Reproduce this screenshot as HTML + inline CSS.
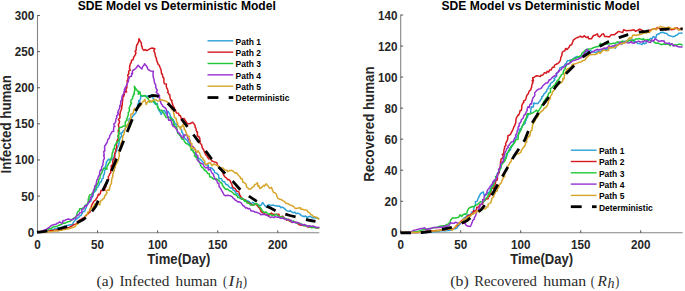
<!DOCTYPE html>
<html><head><meta charset="utf-8"><style>
html,body{margin:0;padding:0;background:#fff;}
svg{display:block;}
text{font-family:"Liberation Sans",sans-serif;}
.tk{font-size:12.4px;font-weight:bold;fill:#262626;}
.lb{font-size:14px;font-weight:bold;fill:#262626;}
.tt{font-size:12.8px;font-weight:bold;fill:#000;}
.lg{font-size:9.1px;font-weight:bold;fill:#000;}
.cp{font-family:"Liberation Serif",serif;font-size:14px;fill:#2a2a2a;}
</style></head><body>
<svg width="685" height="291" viewBox="0 0 685 291">
<rect width="685" height="291" fill="#fff"/>
<path d="M37.5,15.3 V232.70000000000002 H319.3" fill="none" stroke="#858585" stroke-width="1.1"/>
<line x1="37.5" y1="232.2" x2="39.9" y2="232.2" stroke="#262626" stroke-width="0.8"/>
<text transform="translate(34.20,236.70) scale(0.94,1)" text-anchor="end" class="tk">0</text>
<line x1="37.5" y1="196.08333333333331" x2="39.9" y2="196.08333333333331" stroke="#262626" stroke-width="0.8"/>
<text transform="translate(34.20,200.58) scale(0.94,1)" text-anchor="end" class="tk">50</text>
<line x1="37.5" y1="159.96666666666664" x2="39.9" y2="159.96666666666664" stroke="#262626" stroke-width="0.8"/>
<text transform="translate(34.20,164.47) scale(0.94,1)" text-anchor="end" class="tk">100</text>
<line x1="37.5" y1="123.85" x2="39.9" y2="123.85" stroke="#262626" stroke-width="0.8"/>
<text transform="translate(34.20,128.35) scale(0.94,1)" text-anchor="end" class="tk">150</text>
<line x1="37.5" y1="87.73333333333332" x2="39.9" y2="87.73333333333332" stroke="#262626" stroke-width="0.8"/>
<text transform="translate(34.20,92.23) scale(0.94,1)" text-anchor="end" class="tk">200</text>
<line x1="37.5" y1="51.616666666666646" x2="39.9" y2="51.616666666666646" stroke="#262626" stroke-width="0.8"/>
<text transform="translate(34.20,56.12) scale(0.94,1)" text-anchor="end" class="tk">250</text>
<line x1="37.5" y1="15.5" x2="39.9" y2="15.5" stroke="#262626" stroke-width="0.8"/>
<text transform="translate(34.20,20.00) scale(0.94,1)" text-anchor="end" class="tk">300</text>
<line x1="37.5" y1="232.70000000000002" x2="37.5" y2="230.3" stroke="#262626" stroke-width="0.8"/>
<text transform="translate(37.50,248.60000000000002) scale(0.94,1)" text-anchor="middle" class="tk">0</text>
<line x1="97.575" y1="232.70000000000002" x2="97.575" y2="230.3" stroke="#262626" stroke-width="0.8"/>
<text transform="translate(97.58,248.60000000000002) scale(0.94,1)" text-anchor="middle" class="tk">50</text>
<line x1="157.65" y1="232.70000000000002" x2="157.65" y2="230.3" stroke="#262626" stroke-width="0.8"/>
<text transform="translate(157.65,248.60000000000002) scale(0.94,1)" text-anchor="middle" class="tk">100</text>
<line x1="217.725" y1="232.70000000000002" x2="217.725" y2="230.3" stroke="#262626" stroke-width="0.8"/>
<text transform="translate(217.72,248.60000000000002) scale(0.94,1)" text-anchor="middle" class="tk">150</text>
<line x1="277.8" y1="232.70000000000002" x2="277.8" y2="230.3" stroke="#262626" stroke-width="0.8"/>
<text transform="translate(277.80,248.60000000000002) scale(0.94,1)" text-anchor="middle" class="tk">200</text>
<text transform="translate(178.85,264.0) scale(0.935,1)" text-anchor="middle" class="lb">Time(Day)</text>
<text transform="translate(11.0,124.3) rotate(-90) scale(0.952,1)" text-anchor="middle" class="lb">Infected human</text>
<text transform="translate(176.8,9.7) scale(0.945,1)" text-anchor="middle" class="tt">SDE Model vs Deterministic Model</text>
<path d="M400.7,14.8 V232.70000000000002 H682.6" fill="none" stroke="#858585" stroke-width="1.1"/>
<line x1="400.7" y1="232.3" x2="403.09999999999997" y2="232.3" stroke="#262626" stroke-width="0.8"/>
<text transform="translate(397.40,236.80) scale(0.94,1)" text-anchor="end" class="tk">0</text>
<line x1="400.7" y1="201.25714285714287" x2="403.09999999999997" y2="201.25714285714287" stroke="#262626" stroke-width="0.8"/>
<text transform="translate(397.40,205.76) scale(0.94,1)" text-anchor="end" class="tk">20</text>
<line x1="400.7" y1="170.21428571428572" x2="403.09999999999997" y2="170.21428571428572" stroke="#262626" stroke-width="0.8"/>
<text transform="translate(397.40,174.71) scale(0.94,1)" text-anchor="end" class="tk">40</text>
<line x1="400.7" y1="139.17142857142858" x2="403.09999999999997" y2="139.17142857142858" stroke="#262626" stroke-width="0.8"/>
<text transform="translate(397.40,143.67) scale(0.94,1)" text-anchor="end" class="tk">60</text>
<line x1="400.7" y1="108.12857142857143" x2="403.09999999999997" y2="108.12857142857143" stroke="#262626" stroke-width="0.8"/>
<text transform="translate(397.40,112.63) scale(0.94,1)" text-anchor="end" class="tk">80</text>
<line x1="400.7" y1="77.08571428571429" x2="403.09999999999997" y2="77.08571428571429" stroke="#262626" stroke-width="0.8"/>
<text transform="translate(397.40,81.59) scale(0.94,1)" text-anchor="end" class="tk">100</text>
<line x1="400.7" y1="46.042857142857144" x2="403.09999999999997" y2="46.042857142857144" stroke="#262626" stroke-width="0.8"/>
<text transform="translate(397.40,50.54) scale(0.94,1)" text-anchor="end" class="tk">120</text>
<line x1="400.7" y1="15.0" x2="403.09999999999997" y2="15.0" stroke="#262626" stroke-width="0.8"/>
<text transform="translate(397.40,19.50) scale(0.94,1)" text-anchor="end" class="tk">140</text>
<line x1="400.7" y1="232.70000000000002" x2="400.7" y2="230.3" stroke="#262626" stroke-width="0.8"/>
<text transform="translate(400.70,248.60000000000002) scale(0.94,1)" text-anchor="middle" class="tk">0</text>
<line x1="460.7" y1="232.70000000000002" x2="460.7" y2="230.3" stroke="#262626" stroke-width="0.8"/>
<text transform="translate(460.70,248.60000000000002) scale(0.94,1)" text-anchor="middle" class="tk">50</text>
<line x1="520.7" y1="232.70000000000002" x2="520.7" y2="230.3" stroke="#262626" stroke-width="0.8"/>
<text transform="translate(520.70,248.60000000000002) scale(0.94,1)" text-anchor="middle" class="tk">100</text>
<line x1="580.7" y1="232.70000000000002" x2="580.7" y2="230.3" stroke="#262626" stroke-width="0.8"/>
<text transform="translate(580.70,248.60000000000002) scale(0.94,1)" text-anchor="middle" class="tk">150</text>
<line x1="640.7" y1="232.70000000000002" x2="640.7" y2="230.3" stroke="#262626" stroke-width="0.8"/>
<text transform="translate(640.70,248.60000000000002) scale(0.94,1)" text-anchor="middle" class="tk">200</text>
<text transform="translate(541.7,264.0) scale(0.935,1)" text-anchor="middle" class="lb">Time(Day)</text>
<text transform="translate(374.0,124.1) rotate(-90) scale(0.952,1)" text-anchor="middle" class="lb">Recovered human</text>
<text transform="translate(540.5,9.7) scale(0.945,1)" text-anchor="middle" class="tt">SDE Model vs Deterministic Model</text>
<polyline points="38.0,232.4 38.5,232.3 40.1,232.0 41.6,231.7 43.1,231.7 44.7,231.5 46.3,231.1 47.8,231.1 49.3,230.6 51.0,230.1 52.2,229.6 53.9,229.3 55.6,228.5 56.9,228.3 58.7,227.8 60.2,227.7 61.9,227.1 63.1,226.6 64.7,226.0 66.4,225.7 67.4,225.4 70.2,224.8 70.9,225.0 72.4,224.4 74.0,221.5 74.9,220.4 75.5,219.9 77.4,218.4 79.0,217.2 80.1,215.6 81.2,215.5 82.5,212.2 83.1,211.4 84.6,211.4 85.5,209.0 86.2,207.5 86.9,205.1 88.5,202.8 89.2,202.5 90.8,200.9 91.2,198.4 92.3,197.3 92.8,196.1 93.4,193.9 93.6,192.9 94.8,191.5 96.3,189.9 96.6,188.0 97.6,187.3 98.6,186.1 99.3,184.3 100.1,182.1 101.3,181.8 101.8,179.1 103.3,178.2 103.4,175.0 103.9,174.9 104.6,172.8 104.4,170.4 105.5,169.6 105.0,168.3 105.3,167.0 105.9,164.6 106.4,163.0 106.2,162.4 107.9,160.3 108.3,159.2 111.2,160.1 112.3,158.9 112.7,158.9 113.3,158.3 114.2,155.9 114.9,154.2 115.3,153.9 115.9,151.9 116.7,150.7 117.1,148.1 118.3,145.7 118.8,145.2 118.7,143.5 119.3,142.9 119.0,141.1 120.2,138.3 120.4,137.2 121.0,137.2 121.9,135.6 120.6,133.3 122.7,132.3 123.1,131.1 124.8,129.7 125.0,128.6 126.3,126.7 127.8,124.8 128.6,123.2 128.9,122.5 129.2,118.7 129.9,118.6 132.0,117.6 133.2,115.4 133.6,115.1 135.9,112.8 136.2,112.1 136.9,109.6 136.9,108.4 137.8,107.2 137.5,105.0 138.7,102.6 138.7,100.6 139.7,101.3 140.6,98.5 140.6,96.5 143.2,95.6 145.5,96.2 148.4,96.1 150.5,97.0 151.2,94.7 152.4,96.0 153.1,98.6 154.2,99.4 153.7,102.1 155.4,104.3 157.3,103.3 157.3,103.8 157.9,107.8 159.2,111.0 159.9,110.3 160.0,111.7 161.2,114.5 162.6,111.1 164.7,110.6 165.2,112.3 166.8,114.5 166.8,112.3 167.9,111.2 168.6,112.5 169.8,113.7 170.2,115.8 170.7,116.8 172.3,119.0 173.3,119.7 174.0,121.2 175.1,124.1 176.3,124.0 176.9,125.1 178.9,126.5 180.1,126.9 180.4,128.6 181.9,130.7 181.8,132.2 182.6,132.6 183.2,135.5 184.7,135.9 183.6,137.0 185.0,138.6 187.0,140.2 188.6,142.8 189.6,142.3 189.4,144.7 189.6,144.5 191.6,147.5 191.5,149.5 192.8,150.2 193.3,151.5 195.1,153.6 196.0,155.4 196.5,156.6 198.4,158.7 199.3,158.6 200.4,159.3 201.7,160.8 202.8,162.0 204.4,163.4 205.4,164.2 206.4,165.2 208.1,164.8 208.6,167.5 210.6,167.7 212.3,168.5 214.3,170.9 214.7,172.6 216.8,173.2 217.4,174.2 218.4,174.6 219.0,178.7 220.2,178.6 221.2,178.4 221.9,179.9 223.1,181.7 224.6,181.7 225.7,184.2 227.7,185.0 229.6,187.4 231.2,188.4 232.2,187.0 233.0,190.1 234.4,190.2 236.0,193.3 237.7,193.8 238.4,195.3 239.1,195.4 240.4,198.3 241.4,199.3 242.5,198.1 244.0,200.0 245.8,200.0 248.1,201.3 248.9,201.2 251.1,203.8 252.8,202.2 253.7,203.1 255.7,204.1 256.7,203.9 257.5,204.9 260.6,205.4 261.6,204.5 262.5,202.5 263.8,204.1 265.0,205.7 266.2,207.0 267.0,206.0 268.8,204.6 270.9,205.6 273.3,205.1 275.0,205.7 276.4,205.8 278.0,206.2 279.6,205.9 280.7,207.7 282.4,207.1 284.3,208.4 286.0,210.1 287.3,211.0 289.7,211.2 290.2,210.5 292.2,212.3 293.8,212.7 294.9,212.1 296.1,213.7 297.6,213.1 299.6,213.9 301.4,215.7 302.6,216.0 304.2,216.7 305.5,216.0 307.4,218.1 308.1,216.8 310.4,216.3 311.9,217.7 313.0,217.5 315.6,218.1 316.1,218.0 319.3,218.7" fill="none" stroke="#2CA0D8" stroke-width="1.5" stroke-linejoin="round" />
<polyline points="38.0,232.4 38.6,232.2 40.2,232.0 41.7,231.7 43.3,231.9 44.9,231.7 46.5,231.3 48.2,231.3 49.3,231.0 51.0,230.6 52.5,230.7 53.9,230.2 55.6,230.0 57.0,229.7 58.8,229.7 60.1,229.4 61.8,229.2 63.4,228.6 64.7,228.5 66.1,227.9 67.8,228.1 69.6,227.2 71.0,226.5 72.6,225.7 73.9,224.4 75.4,224.2 76.8,223.8 77.8,221.3 79.6,220.3 80.2,219.5 81.2,219.7 82.1,218.3 84.2,217.9 85.0,216.7 86.5,215.2 87.5,214.1 89.1,212.7 90.1,212.2 90.0,209.3 90.8,208.2 91.6,207.0 91.2,206.5 92.8,203.2 93.8,201.5 94.9,200.5 95.5,200.2 96.8,197.9 97.1,197.7 98.5,194.1 99.2,194.9 100.3,193.5 101.0,190.4 103.0,190.4 105.0,190.1 104.5,187.8 106.0,186.9 105.4,186.4 105.9,183.4 107.3,181.5 107.9,179.7 108.6,179.1 108.2,176.9 109.3,175.3 109.8,173.7 110.8,172.7 110.7,169.9 111.4,167.9 111.2,165.8 111.9,166.9 112.2,164.6 113.0,164.1 112.7,161.6 113.1,159.6 114.1,158.8 114.9,156.8 114.6,154.4 114.9,153.1 114.9,153.3 115.8,150.7 115.9,149.2 116.8,147.2 116.6,145.5 116.4,145.1 116.9,142.9 117.1,141.0 117.4,139.9 118.6,137.8 118.5,137.1 117.8,136.2 119.1,133.3 118.6,133.4 118.2,130.4 118.9,129.4 118.9,127.2 118.7,126.1 118.3,124.7 119.3,122.9 119.5,121.2 118.4,119.6 119.9,118.0 120.0,116.0 119.7,115.3 120.0,114.3 120.2,113.1 120.3,111.4 120.8,111.1 121.9,108.1 121.0,106.0 122.1,106.1 122.4,102.5 122.3,102.3 122.8,99.4 122.7,98.8 123.3,95.7 123.9,96.1 124.4,93.8 124.2,91.7 126.6,92.0 125.8,89.8 126.9,87.7 126.8,85.4 126.8,84.2 127.6,82.4 127.0,81.2 127.9,79.6 128.2,76.8 127.7,75.2 128.9,73.5 128.6,71.2 130.4,70.1 129.5,68.9 129.6,67.9 129.6,66.8 130.4,63.5 131.2,62.7 131.6,60.2 133.0,59.7 134.0,56.6 134.9,55.5 136.0,52.9 135.1,51.4 136.0,50.6 136.2,48.6 136.3,47.6 136.8,44.7 137.3,44.7 138.4,42.1 138.6,42.0 139.0,38.7 140.7,42.0 141.3,42.5 141.5,45.8 142.2,46.8 142.4,48.6 143.8,50.4 145.3,49.5 146.4,50.6 147.7,50.2 150.3,48.6 152.0,48.0 154.9,48.7 153.8,50.9 155.0,53.2 154.9,53.6 155.7,57.2 156.5,58.0 156.4,59.5 157.2,61.9 157.8,63.2 158.2,64.5 159.2,65.2 160.2,67.7 160.9,69.2 161.1,69.9 161.4,72.8 161.6,74.0 162.3,74.0 162.9,77.3 163.9,78.1 163.9,82.5 164.6,83.8 166.4,84.0 166.2,85.6 166.7,87.8 167.4,89.0 168.2,91.6 167.5,92.5 168.5,93.2 169.5,95.3 169.8,94.9 170.1,98.0 170.7,99.8 172.0,100.5 171.7,101.6 172.6,104.0 173.2,106.4 173.1,106.6 174.3,107.3 174.7,110.7 175.4,110.0 176.4,112.9 178.5,113.3 179.1,115.6 180.3,115.5 181.2,118.2 183.7,118.7 184.2,118.6 184.7,119.8 186.1,121.8 187.4,123.7 189.7,123.7 191.5,123.0 192.6,122.2 194.5,124.5 195.1,125.9 195.2,127.4 195.8,128.0 196.4,130.9 197.1,132.5 197.5,132.0 197.3,136.0 199.0,136.5 198.9,137.3 199.7,137.9 200.1,141.3 199.9,142.9 200.5,143.7 201.5,144.4 202.4,148.1 202.8,148.5 203.8,150.2 205.3,154.1 206.2,155.2 207.1,156.0 207.2,156.6 208.9,159.0 210.1,158.1 211.9,161.0 213.7,161.6 215.0,162.1 216.9,162.8 217.4,165.2 217.9,165.8 219.5,167.3 220.0,169.3 221.4,169.6 221.8,170.8 222.8,172.4 223.8,175.4 225.3,177.3 226.4,177.9 227.8,179.7 229.0,179.6 230.4,181.3 230.7,182.4 231.5,183.5 232.8,187.2 233.7,188.0 235.1,188.4 235.8,189.6 236.8,191.3 238.6,191.5 239.6,194.3 239.7,194.6 240.8,196.7 241.0,197.8 242.7,199.1 243.7,199.4 245.2,200.1 246.3,201.4 248.0,202.4 249.7,203.5 251.5,204.5 253.2,205.1 254.8,204.1 256.6,204.9 258.6,207.4 259.7,208.1 261.0,211.5 263.5,213.0 264.1,212.6 265.4,214.6 268.7,215.3 271.4,213.1 272.5,214.1 275.3,214.5 279.0,214.3 279.2,216.9 282.7,216.3 284.1,217.8 285.2,218.4 286.7,220.2 288.8,219.3 289.1,220.8 291.2,221.7 292.7,222.3 294.0,222.2 295.3,222.3 297.5,223.3 298.6,224.4 299.9,225.1 301.9,225.2 304.0,225.6 305.8,225.5 307.2,226.7 309.3,227.0 311.2,226.8 313.0,227.3 314.6,227.1 315.8,228.0 318.0,227.7 319.3,227.7" fill="none" stroke="#D4191F" stroke-width="1.5" stroke-linejoin="round" />
<polyline points="38.0,232.4 38.6,231.9 40.2,232.0 41.8,231.7 43.4,231.5 44.9,231.4 46.7,230.2 48.0,229.6 49.5,228.6 50.8,228.9 52.4,227.2 54.1,226.7 55.8,226.5 57.3,226.1 58.9,225.2 60.4,224.7 61.8,224.2 63.5,223.1 65.0,223.3 66.4,222.4 68.1,221.7 69.9,221.6 71.1,220.4 72.5,219.1 74.4,217.8 76.3,216.6 76.4,215.9 77.2,213.0 78.0,211.5 79.3,210.8 79.6,208.8 81.9,208.4 83.9,207.7 84.6,205.9 87.1,204.0 88.2,202.9 88.3,198.8 89.1,199.9 88.9,196.9 89.8,194.7 91.9,194.7 91.9,193.6 94.1,191.4 94.5,189.5 95.7,188.8 96.0,187.3 95.8,186.8 97.2,184.8 98.2,182.9 98.4,182.1 98.8,179.7 100.0,177.8 100.1,177.4 100.1,176.0 101.0,174.0 102.2,172.2 102.1,171.5 103.8,167.9 105.1,168.4 106.8,169.3 107.1,166.0 107.7,165.4 109.0,162.8 109.9,162.6 110.2,159.3 110.9,158.7 111.0,158.4 111.9,157.0 112.2,153.0 112.8,152.5 113.0,151.4 113.4,149.1 114.4,149.0 114.7,145.3 115.3,144.7 116.7,142.3 117.1,142.5 119.1,140.0 118.5,138.2 118.0,135.6 118.8,136.4 118.8,134.2 118.5,132.6 119.5,131.3 118.9,129.1 119.5,127.7 122.7,126.7 123.7,125.9 125.4,125.9 125.2,122.3 125.7,121.4 127.2,120.0 126.5,118.9 127.4,117.6 128.3,114.7 128.2,112.8 128.5,112.5 128.9,111.8 129.5,109.9 129.1,108.0 130.1,106.1 130.4,105.0 131.5,103.1 130.7,102.3 131.2,99.6 132.7,98.7 132.6,97.0 133.3,95.9 133.6,94.1 134.4,94.2 134.2,91.9 134.9,90.3 134.4,86.3 136.6,89.9 138.4,91.6 138.3,94.3 139.8,91.6 140.7,95.2 142.6,96.2 144.9,95.4 146.6,97.1 148.1,98.5 148.7,100.4 149.7,102.1 151.4,101.5 154.8,101.6 155.8,103.8 157.2,104.9 157.7,107.6 158.6,108.4 159.9,110.4 161.7,110.2 163.4,112.8 164.3,114.2 165.8,117.1 166.7,117.7 168.0,117.0 168.9,117.0 171.0,118.8 172.4,119.2 172.8,120.4 173.6,122.8 173.9,125.6 174.5,125.1 175.0,126.2 176.6,127.2 176.9,128.7 177.4,131.6 177.8,133.4 179.1,134.4 180.6,136.2 181.2,137.6 181.7,139.1 183.6,139.4 184.6,141.7 185.8,143.2 187.1,143.7 188.7,145.0 189.8,145.9 190.9,147.7 191.2,150.0 193.1,150.5 193.5,152.2 195.3,154.3 194.3,155.6 196.3,157.7 197.2,156.4 197.5,159.9 198.6,160.4 199.5,162.2 200.4,164.2 200.8,165.9 201.9,167.3 203.3,168.2 204.6,170.4 205.3,170.3 206.5,171.6 207.8,173.5 209.3,173.7 209.7,176.8 211.3,177.2 213.8,179.2 214.8,178.5 216.7,179.0 218.5,180.2 219.9,181.8 220.4,182.1 222.4,184.0 222.3,185.0 224.1,187.5 224.1,187.2 225.5,189.3 227.5,189.0 228.2,189.7 229.3,190.8 231.0,191.3 233.0,193.0 234.4,194.4 235.6,194.7 237.2,195.9 237.7,197.5 239.0,197.5 240.2,198.3 242.1,198.9 243.3,198.9 244.6,201.4 245.7,200.5 247.2,203.0 249.3,203.3 250.3,204.9 252.4,204.9 254.0,205.1 254.7,203.8 257.7,204.0 258.6,205.9 260.3,207.6 261.5,209.1 261.9,210.5 263.3,211.5 263.8,212.6 266.1,212.1 268.0,214.0 269.7,214.1 272.5,215.5 273.7,215.5 276.3,214.3 278.4,216.2 280.0,216.7 282.8,216.9 284.2,218.5 284.8,218.7 286.2,218.7 288.8,220.1 290.7,220.8 291.9,221.3 293.6,221.1 295.1,222.5 296.5,223.0 298.2,222.7 299.6,223.3 301.3,224.1 302.7,224.4 303.9,225.7 305.5,225.6 306.9,225.7 308.2,226.2 309.7,226.8 311.9,227.8 313.5,227.3 315.6,227.7 317.3,227.9 319.3,227.7" fill="none" stroke="#22C838" stroke-width="1.5" stroke-linejoin="round" />
<polyline points="38.0,232.2 39.1,231.8 40.9,231.7 42.8,230.9 44.4,229.8 46.2,229.4 48.0,228.1 49.5,227.1 51.5,225.4 52.8,224.9 54.4,224.5 55.6,224.6 57.0,223.4 58.6,222.7 59.6,221.8 62.1,223.5 63.1,220.5 64.5,220.7 66.2,219.6 68.2,219.0 69.8,219.5 70.9,219.9 72.7,219.6 74.1,218.5 75.3,218.2 77.3,215.3 78.8,214.7 79.7,212.7 81.8,212.4 81.8,209.2 83.5,209.1 84.0,208.2 85.1,205.7 86.2,206.2 87.8,204.1 88.0,203.1 89.5,201.5 90.9,198.7 90.6,197.4 91.5,196.5 92.5,195.7 92.4,194.3 93.4,191.7 93.4,190.3 94.4,188.6 94.7,187.3 94.7,186.0 96.2,184.6 96.1,184.7 96.6,181.4 96.9,180.0 97.6,179.1 98.3,176.6 99.0,175.5 99.9,174.1 99.5,172.9 100.5,169.8 101.7,170.0 101.6,167.3 102.1,166.2 103.0,165.1 102.8,163.5 103.2,162.3 103.4,160.2 104.3,158.6 104.2,157.3 103.6,154.9 104.3,154.9 103.7,152.0 104.8,150.2 104.8,151.0 104.6,147.9 104.6,145.7 104.8,146.2 106.7,143.0 107.2,142.4 107.9,139.4 109.3,138.2 109.8,135.6 110.9,133.9 111.4,133.0 111.7,132.0 113.9,131.1 113.4,130.7 113.9,126.7 114.9,126.6 113.7,124.0 115.4,122.7 115.9,120.2 116.0,118.7 117.0,117.6 116.4,115.8 117.7,115.1 118.5,113.1 117.6,112.9 118.3,110.6 119.2,109.1 119.6,108.2 119.7,106.2 120.5,104.3 120.9,102.7 120.6,101.1 121.7,100.4 121.8,98.6 122.0,96.8 122.4,95.6 124.2,93.0 124.0,92.1 125.2,89.1 124.3,89.6 125.4,87.4 126.3,86.0 126.7,84.9 127.5,83.1 128.0,81.5 128.5,81.2 128.6,79.1 129.7,76.8 131.5,76.2 131.7,73.2 132.5,74.0 132.4,71.1 133.4,69.7 134.2,69.8 135.9,68.2 138.1,65.2 139.8,67.1 141.9,69.0 142.4,67.1 144.2,64.7 144.5,63.7 147.0,66.8 147.2,67.6 148.1,69.5 150.5,70.9 153.4,71.3 153.0,73.0 153.1,73.3 153.1,76.5 154.0,79.3 153.9,79.2 154.5,82.6 155.2,84.2 155.9,85.3 155.6,87.1 156.5,89.0 157.3,90.1 156.2,92.3 158.3,94.0 159.6,95.9 158.9,97.6 159.8,98.1 159.5,100.7 160.6,101.1 160.8,103.1 162.2,105.0 162.9,106.3 164.5,107.4 166.2,108.8 166.4,109.9 166.8,111.4 167.3,113.4 167.3,115.9 168.0,116.8 168.6,119.8 168.7,120.2 170.9,119.6 171.7,123.0 172.8,126.1 173.9,126.5 175.3,127.8 176.2,128.7 177.6,131.4 177.8,132.4 179.7,133.4 180.1,134.7 182.0,137.0 183.4,138.1 183.9,135.1 186.4,134.9 187.7,136.1 187.4,137.5 188.6,139.7 189.1,140.9 190.0,140.4 190.7,145.2 191.5,146.0 192.9,146.4 193.8,147.4 194.4,149.1 195.5,149.4 195.8,152.0 196.1,153.1 196.0,154.4 197.6,155.5 198.1,157.1 197.3,159.8 198.5,161.4 199.5,162.2 200.8,163.3 202.8,163.9 204.0,166.2 206.0,168.0 208.0,167.0 208.4,170.1 210.3,169.0 211.2,171.5 212.3,173.5 213.1,173.7 213.5,175.1 214.5,177.8 215.8,179.8 216.8,180.4 217.5,183.1 218.9,183.2 219.1,186.6 219.6,187.1 220.8,188.8 221.7,190.7 222.6,192.2 224.1,195.0 225.6,195.8 227.6,195.3 229.1,195.6 230.3,195.7 232.4,196.8 233.1,198.2 234.5,199.0 235.2,200.0 236.8,200.9 237.9,202.1 239.4,201.8 241.2,202.9 242.7,205.3 243.3,206.0 244.1,205.9 245.6,208.1 246.6,207.6 247.9,208.7 249.7,208.5 251.2,211.1 252.7,210.9 255.0,212.0 255.9,212.2 257.5,212.6 259.6,213.4 260.7,214.8 262.4,214.2 264.5,214.4 266.4,215.0 267.8,215.9 269.2,216.5 270.4,217.5 271.7,216.9 274.1,217.6 275.1,216.6 277.3,217.2 278.8,217.0 280.5,218.3 282.1,218.2 284.0,218.1 284.2,219.1 286.9,219.5 287.7,219.6 289.5,220.1 291.1,220.3 292.1,222.5 293.7,221.8 295.3,222.6 296.6,222.2 297.8,222.7 299.5,223.6 300.9,224.1 302.4,224.9 304.8,224.6 306.4,225.6 307.6,226.4 309.4,225.7 311.5,226.5 312.9,226.0 314.2,226.6 315.5,226.9 317.5,227.6 319.3,227.3" fill="none" stroke="#9632D0" stroke-width="1.5" stroke-linejoin="round" />
<polyline points="38.0,232.4 38.6,232.2 40.3,232.2 41.8,232.2 43.3,232.2 45.1,232.0 46.5,231.8 48.0,231.7 49.4,231.7 51.1,231.7 52.6,231.4 54.0,231.0 55.5,230.9 57.1,231.1 58.6,230.7 60.2,230.2 61.6,230.2 63.4,229.6 64.8,229.5 66.4,229.2 67.9,228.8 69.1,228.7 71.1,228.0 72.5,227.4 74.0,227.2 75.3,226.4 76.2,224.5 77.8,224.1 78.6,222.8 80.1,221.9 81.6,220.1 83.4,219.4 84.6,218.1 85.0,216.8 85.6,215.1 87.5,214.2 87.6,212.5 89.5,210.8 90.0,210.3 90.8,207.8 92.0,208.2 93.6,206.8 95.0,203.7 95.7,204.1 97.7,203.6 99.8,204.8 99.9,203.4 100.7,200.6 101.8,200.4 102.8,199.0 104.0,198.5 104.8,195.6 105.4,195.5 107.0,192.8 106.3,191.9 107.3,190.0 109.3,190.2 109.4,188.1 109.8,187.9 110.3,185.1 111.4,183.6 111.4,181.9 111.8,179.3 111.8,178.0 112.7,177.4 112.8,174.7 113.2,173.6 113.5,172.0 114.2,170.9 114.5,168.7 115.5,167.2 115.1,165.8 116.2,164.0 117.6,161.7 118.0,160.7 118.8,157.7 119.1,156.3 119.5,154.7 119.5,154.8 118.9,152.3 119.7,150.4 119.9,148.8 119.7,148.4 120.6,145.8 120.7,144.0 120.9,143.7 122.1,140.9 122.4,139.9 122.5,138.5 122.8,136.6 123.4,135.3 123.8,134.6 124.4,131.7 125.2,129.6 125.7,127.6 126.6,127.1 127.3,125.4 127.9,124.2 129.0,123.0 129.5,121.4 130.4,119.7 130.6,118.3 131.1,117.3 130.6,115.3 131.0,114.1 132.9,113.8 133.5,111.3 134.5,108.3 135.8,110.6 137.1,109.6 138.6,107.2 139.5,106.9 141.5,104.8 141.9,102.8 143.4,101.3 144.9,99.4 145.4,101.7 146.2,104.0 146.1,104.6 146.9,103.1 147.5,102.2 149.3,100.4 151.7,101.9 152.4,100.7 154.6,99.4 156.0,99.8 157.5,100.9 159.0,100.8 159.8,99.7 161.9,100.1 164.0,100.6 164.6,100.7 166.4,101.5 167.7,102.4 169.6,103.5 169.7,105.9 171.5,106.5 171.3,107.6 171.5,109.4 173.3,109.7 173.5,111.5 173.8,113.8 174.2,115.1 174.3,117.2 175.0,117.6 176.0,118.1 176.7,122.0 177.3,122.9 177.6,122.9 177.9,126.1 178.7,126.6 179.8,126.8 180.6,129.3 180.7,127.6 181.4,127.5 182.9,124.2 183.5,126.2 184.3,127.8 184.2,129.3 185.4,130.4 186.0,132.6 187.0,134.7 187.0,135.8 188.9,136.2 189.1,137.6 189.8,140.1 189.7,141.2 190.8,142.8 192.0,143.7 191.3,147.9 193.3,148.3 194.7,148.2 195.3,150.7 197.1,152.2 197.9,150.8 199.7,153.3 200.3,154.9 201.1,157.2 202.8,158.1 203.2,159.5 204.6,160.9 204.8,163.4 206.2,164.8 208.7,162.9 210.5,162.7 211.9,165.8 214.0,163.8 214.9,164.5 217.0,165.3 218.0,166.0 220.2,167.4 221.4,167.9 223.0,168.0 224.8,170.0 227.2,170.2 227.6,171.7 229.3,170.8 231.6,170.3 232.6,170.9 235.1,173.0 235.7,172.8 236.8,172.9 238.1,175.2 240.0,176.8 240.7,178.8 241.9,178.5 242.7,180.9 242.8,182.2 244.0,182.4 245.9,184.0 246.5,186.5 247.3,187.7 248.3,188.3 248.7,189.1 250.8,189.1 252.1,187.6 253.9,186.4 254.6,184.7 256.0,184.1 257.5,182.8 258.0,186.4 259.2,186.0 259.9,188.6 261.7,187.4 263.9,185.2 264.5,186.1 266.2,183.8 268.4,186.6 269.7,188.3 271.5,187.4 272.3,189.6 273.4,192.3 273.8,192.5 275.5,193.1 276.6,194.7 276.9,196.2 278.0,198.6 279.9,199.2 281.6,199.4 281.8,200.2 284.6,201.7 286.2,203.4 287.6,203.4 289.3,204.7 290.9,205.2 291.8,205.4 294.0,206.9 295.2,208.4 296.5,208.5 298.5,208.0 300.6,207.8 301.0,209.2 302.4,209.2 304.0,209.7 307.0,210.2 307.7,211.6 309.3,212.7 310.6,214.1 312.1,215.1 313.3,216.4 315.6,217.0 316.9,217.3 317.4,218.3 319.3,219.2" fill="none" stroke="#D6A52A" stroke-width="1.5" stroke-linejoin="round" />
<path d="M37.00,232.40 L44.70,231.40 L47.30,230.97 M57.60,229.04 L60.20,228.50 L67.20,226.68 M76.90,222.78 L83.40,219.40 L85.80,217.58 M92.00,211.41 L95.80,206.20 L98.20,200.60 M102.70,190.63 L106.80,182.50 L108.10,179.31 M111.50,170.96 L112.30,169.00 L116.50,158.64 M119.40,151.43 L121.50,146.20 L123.70,140.70 M127.20,131.95 L131.30,121.70 L132.30,119.15 M135.50,111.00 L139.40,104.80 L141.00,102.82 M148.40,96.84 L152.50,95.50 L157.20,95.80 L158.70,96.86 M167.60,103.41 L168.50,104.10 L173.30,108.90 L175.10,111.15 M181.30,118.90 L182.90,120.90 L187.50,126.87 M193.30,134.53 L196.80,139.20 L199.40,142.65 M205.60,150.90 L211.30,158.50 L211.80,159.08 M218.50,166.90 L225.20,173.60 M232.70,181.10 L232.90,181.30 L240.30,189.71 M248.80,196.03 L248.90,196.10 L256.10,200.90 L257.00,201.35 M266.70,206.20 L270.50,208.10 L275.60,210.65 M285.30,214.18 L290.00,215.50 L295.60,216.79 M305.90,219.73 L310.50,220.50 L315.50,221.35" fill="none" stroke="#000" stroke-width="2.8" stroke-linejoin="round"/>
<polyline points="401.2,232.4 402.2,232.5 404.0,232.4 405.5,232.3 407.1,232.5 408.8,232.4 410.4,232.3 412.0,232.5 413.7,232.5 415.7,232.5 417.5,232.5 419.2,232.6 420.9,232.4 422.3,232.4 423.8,232.4 425.4,232.4 426.9,232.4 428.5,232.3 429.9,232.2 432.2,232.0 434.2,231.7 435.7,231.5 437.4,231.6 439.0,231.4 440.6,230.7 442.4,230.7 444.3,230.8 446.2,230.7 447.9,230.6 449.9,230.2 451.6,230.2 453.3,229.1 455.3,228.8 456.6,228.3 457.7,226.7 458.7,225.5 460.2,223.9 460.5,222.2 461.6,221.7 462.8,220.5 463.3,218.6 464.9,217.6 466.1,216.8 467.6,215.1 468.5,215.1 470.1,214.7 471.9,214.2 471.5,212.2 474.3,211.1 473.5,209.6 474.1,207.5 475.3,205.0 475.5,204.4 475.4,201.8 477.2,201.1 478.2,197.9 478.5,197.9 479.4,195.9 480.6,193.6 481.3,193.0 483.2,191.9 483.7,193.5 483.8,194.1 484.1,195.4 485.9,195.0 486.9,193.3 489.1,192.1 490.1,190.7 491.0,187.3 491.4,186.9 492.1,185.9 492.5,183.4 493.9,181.7 495.2,181.4 495.1,179.7 495.9,178.8 496.7,176.2 497.3,173.7 497.9,172.9 499.0,171.0 499.3,170.2 500.6,168.1 500.6,165.2 501.3,163.8 502.1,163.6 502.6,162.1 504.4,159.8 504.5,158.9 505.5,157.8 506.3,156.5 507.1,155.4 507.3,153.6 508.5,152.0 508.5,150.5 510.5,150.0 510.9,146.3 511.7,146.5 512.6,145.2 513.8,142.8 514.7,141.9 515.2,139.1 515.8,138.8 516.7,136.7 517.2,135.9 518.5,134.9 519.1,132.9 519.3,130.7 520.1,128.8 520.3,129.7 522.0,127.0 522.7,125.2 523.9,124.5 525.4,122.9 524.4,122.2 526.2,120.3 526.3,118.9 527.7,117.0 527.6,116.4 528.7,114.0 529.7,113.8 530.5,113.0 530.9,109.5 531.3,106.8 532.1,106.9 533.4,106.9 533.7,103.0 535.0,103.5 538.2,103.5 539.1,101.5 540.4,100.6 540.6,99.4 541.8,98.7 541.8,96.7 543.2,95.9 543.8,94.2 545.4,92.4 546.6,91.4 546.9,89.5 547.9,88.8 548.6,86.7 549.7,85.3 550.2,85.7 550.4,83.5 552.1,82.3 553.3,81.5 554.9,79.7 554.0,78.4 555.3,77.5 556.8,76.0 556.4,73.6 557.2,73.6 558.7,71.2 559.7,69.5 559.7,68.2 562.6,66.7 563.6,66.9 565.4,63.8 566.0,63.5 567.6,60.7 569.2,60.4 571.9,59.8 574.4,57.8 577.3,56.4 579.4,58.2 580.1,57.3 581.9,56.1 583.1,55.8 584.0,53.3 586.3,51.6 588.7,51.3 590.5,50.7 593.1,51.7 594.9,52.4 596.3,52.3 598.9,50.8 599.8,52.0 602.0,50.4 603.8,49.1 606.6,49.4 606.9,49.3 609.6,48.1 611.6,47.3 613.2,45.9 615.3,48.3 616.2,46.6 617.4,44.3 620.5,43.7 621.5,43.4 623.7,41.3 625.1,41.6 627.8,40.3 630.2,40.3 630.7,41.0 632.6,39.3 634.1,42.4 635.8,41.4 637.7,43.5 639.7,43.6 642.1,44.6 643.3,42.6 644.4,43.7 646.3,43.0 647.0,40.0 648.8,40.2 650.3,38.6 652.4,38.2 653.3,36.5 655.9,37.8 656.6,34.8 657.9,34.2 659.0,33.8 661.1,32.4 662.4,32.2 663.5,32.5 665.0,33.3 666.8,33.6 668.3,35.2 671.1,36.1 673.3,36.8 674.6,36.3 676.0,35.3 677.2,35.0 678.9,33.2 681.1,33.1 682.6,32.9" fill="none" stroke="#2CA0D8" stroke-width="1.5" stroke-linejoin="round" />
<polyline points="401.2,232.4 402.5,232.3 404.1,232.4 405.7,232.2 407.4,232.6 408.9,232.5 410.7,232.4 412.3,232.5 413.9,232.4 415.7,232.3 417.6,232.4 419.3,232.2 420.8,232.0 422.4,231.8 423.8,231.8 425.3,231.6 426.8,231.5 428.4,231.2 430.1,231.1 431.8,230.8 433.6,230.9 435.2,230.6 437.0,230.5 438.7,230.3 440.4,229.9 442.7,230.1 444.4,230.2 446.0,229.1 447.9,228.9 449.6,228.8 451.0,229.2 453.0,228.9 453.9,228.3 455.2,227.2 456.3,226.1 457.6,225.2 458.6,224.0 459.7,223.2 461.0,221.1 462.3,220.2 463.6,219.6 464.9,219.5 466.6,217.3 467.6,216.2 468.4,215.6 470.0,215.6 470.7,214.0 472.6,214.0 473.5,210.8 474.0,211.5 476.0,210.3 477.2,207.4 476.8,207.3 478.7,206.9 479.8,204.9 480.5,204.4 482.1,204.3 483.4,201.8 485.1,200.3 486.1,198.9 488.2,198.8 488.0,197.1 489.8,196.0 490.0,194.6 490.8,193.8 490.9,191.2 491.2,189.5 492.4,187.5 493.7,188.6 494.7,186.3 494.8,185.7 495.4,183.1 495.4,181.0 497.0,180.3 497.5,178.3 497.3,175.9 497.9,174.6 497.9,174.9 499.3,172.3 499.3,170.8 499.5,168.7 500.1,166.9 500.5,166.4 500.5,164.2 500.5,162.1 500.9,161.0 501.1,158.9 502.4,158.1 503.5,157.2 502.3,154.2 503.5,154.2 504.0,151.2 503.8,150.2 504.7,147.9 504.5,146.8 505.9,145.4 505.6,143.5 506.6,141.6 507.5,139.9 507.8,138.1 507.9,135.8 509.2,135.3 510.5,134.4 510.9,133.3 511.7,131.8 511.9,131.6 513.2,128.7 514.1,126.3 514.4,126.1 515.9,122.3 515.7,121.8 516.1,118.7 516.5,117.7 518.4,114.7 518.6,115.3 519.7,112.8 520.1,110.4 521.3,110.4 521.8,107.9 521.8,105.6 522.8,103.2 523.9,102.3 523.6,100.9 525.4,100.1 525.9,98.8 526.5,96.4 527.1,95.1 528.3,93.7 529.1,91.2 530.9,89.6 531.0,88.4 531.6,87.4 531.6,86.3 532.3,83.3 533.0,82.8 532.2,80.5 533.5,80.8 532.6,77.8 533.9,77.5 536.1,75.8 538.3,75.9 540.5,76.6 541.0,75.3 543.0,74.9 544.5,72.6 546.3,73.3 547.1,71.3 548.7,72.2 549.5,69.9 551.2,69.9 552.4,67.2 554.1,67.3 554.6,65.1 556.0,64.3 557.9,63.5 559.6,61.7 560.2,60.6 560.6,59.2 560.8,57.5 561.9,55.3 562.1,52.7 563.1,51.4 564.9,50.7 565.6,48.4 567.0,49.5 569.2,47.0 569.9,45.4 571.7,44.7 572.3,42.9 573.3,40.2 576.1,38.0 577.1,37.7 578.2,37.3 580.3,36.1 581.7,37.0 583.0,37.1 584.1,35.7 586.5,37.6 588.2,36.8 588.6,38.8 591.5,38.8 592.8,36.4 593.6,35.6 595.0,35.3 597.3,33.8 598.2,36.3 599.6,36.9 601.6,35.0 601.6,34.4 603.5,33.8 604.7,36.6 606.7,36.4 609.2,36.9 611.2,34.7 612.6,34.7 614.2,34.8 616.7,32.9 618.6,31.4 622.7,32.6 623.6,29.7 626.3,30.8 628.5,30.6 630.8,30.5 633.9,29.8 635.4,31.2 638.3,30.0 639.7,29.1 640.4,29.4 642.9,30.7 643.9,32.0 647.0,31.4 647.8,30.8 649.7,30.1 651.3,29.6 653.6,28.9 656.0,28.4 657.9,27.5 659.9,29.0 661.6,29.3 663.4,27.6 665.6,30.3 665.8,29.3 668.0,28.6 669.6,27.8 671.1,29.8 672.9,29.6 674.8,28.7 677.2,27.8 678.7,29.9 680.5,28.7 682.6,29.1" fill="none" stroke="#D4191F" stroke-width="1.5" stroke-linejoin="round" />
<polyline points="401.2,232.4 402.4,232.1 404.1,232.4 405.7,232.3 407.4,232.3 409.1,232.3 410.8,232.1 412.4,232.0 414.2,231.7 415.8,232.0 417.7,231.4 419.4,231.0 420.7,230.5 422.5,229.9 424.1,229.3 425.5,228.9 427.9,228.9 429.9,228.4 431.5,228.4 433.5,227.7 435.3,227.4 436.9,227.5 438.2,226.8 440.1,226.1 441.8,225.9 443.0,225.8 444.8,226.0 446.4,224.6 447.9,224.1 450.0,222.4 450.7,220.0 451.5,218.9 452.6,218.1 455.0,217.9 457.9,217.6 458.6,217.4 460.1,214.9 461.7,216.5 462.9,214.8 465.2,213.8 465.6,214.4 466.9,212.9 467.6,210.5 468.7,208.4 469.6,207.8 472.5,206.5 473.2,206.9 474.7,205.9 475.7,204.9 477.2,204.7 479.2,202.9 480.8,201.6 482.1,202.0 483.8,201.5 485.0,200.3 486.0,198.2 487.7,197.2 488.4,193.6 489.1,194.1 490.3,192.2 491.2,189.4 491.4,189.2 491.9,187.1 492.9,186.8 494.0,183.3 493.7,182.6 494.4,182.2 495.0,180.9 496.2,177.1 495.5,176.7 497.0,175.8 498.0,173.6 497.8,173.7 499.5,170.4 499.8,170.1 500.0,167.8 501.0,168.1 501.0,165.7 502.1,164.1 503.8,161.8 503.3,162.8 505.1,160.8 505.0,159.4 506.2,158.3 506.5,156.4 506.2,154.3 507.6,152.8 508.6,151.4 508.9,151.6 509.6,148.2 511.2,147.4 511.6,146.3 512.0,145.3 513.5,144.1 515.2,141.5 515.7,139.8 517.4,139.6 518.2,138.9 518.2,137.0 518.3,135.0 518.8,133.1 519.9,131.9 520.9,130.0 521.2,129.2 522.0,126.7 522.2,125.9 523.2,124.4 523.5,123.4 524.2,121.8 524.5,122.1 525.2,119.6 526.5,117.9 527.1,113.8 529.8,114.1 531.7,113.0 532.7,113.0 536.5,110.2 538.3,111.7 538.9,110.3 540.8,107.4 541.5,106.2 541.9,104.9 543.5,104.0 543.5,102.7 543.4,102.0 545.9,98.8 546.2,98.0 548.0,96.1 547.9,95.8 548.6,93.4 550.6,92.1 550.3,88.6 552.1,87.6 553.9,85.4 554.6,85.4 555.9,83.1 557.2,80.8 558.9,79.2 559.2,78.3 560.8,76.0 561.7,74.4 563.4,73.9 563.1,73.9 563.6,70.6 565.1,69.0 565.5,66.8 566.7,64.9 568.5,63.8 570.1,62.5 570.5,60.4 573.2,59.4 573.9,58.7 576.4,58.1 579.2,56.3 580.1,56.5 581.3,55.1 582.3,52.7 584.2,51.7 585.3,50.2 586.5,49.4 589.1,49.0 591.3,48.7 593.4,47.7 594.7,47.2 597.5,46.5 598.8,46.6 600.4,43.3 602.0,44.8 603.9,43.6 606.2,43.7 607.5,43.9 609.9,43.8 611.4,43.7 613.6,43.1 615.1,43.8 616.6,42.2 617.6,42.0 620.3,42.4 622.3,41.1 623.9,42.7 625.8,41.6 627.2,42.1 629.0,40.6 630.6,40.3 633.1,40.5 634.1,40.7 635.6,39.0 637.1,38.9 639.7,38.6 642.4,39.7 643.5,38.6 644.6,40.3 647.6,39.6 649.6,39.9 651.1,40.6 652.8,40.8 654.7,42.3 656.1,43.3 657.9,43.0 659.0,43.6 661.7,44.7 662.9,44.1 665.4,44.3 665.3,44.4 668.2,43.8 670.0,45.8 671.2,43.9 673.3,45.4 675.1,44.7 677.1,45.2 678.7,44.2 680.7,44.2 682.6,45.3" fill="none" stroke="#22C838" stroke-width="1.5" stroke-linejoin="round" />
<polyline points="401.2,232.4 402.4,232.3 404.1,232.4 405.7,232.2 407.4,231.9 409.1,232.0 410.8,231.8 412.4,231.2 414.0,230.2 415.8,230.0 417.3,229.4 419.1,229.1 421.3,228.6 423.0,228.4 424.6,227.7 427.0,230.0 428.3,228.6 430.0,229.0 431.3,228.2 433.3,227.6 435.0,227.5 436.9,227.4 438.6,227.5 440.7,227.1 442.8,227.4 444.8,226.0 446.2,226.3 448.0,225.7 449.2,225.1 450.5,222.8 452.3,223.3 454.3,223.2 455.5,222.2 457.5,223.2 458.7,222.9 461.7,222.4 464.1,223.2 465.4,223.7 465.9,225.1 467.4,226.1 470.2,226.5 471.0,225.3 471.7,223.4 472.3,222.0 472.7,220.5 474.3,219.1 474.4,217.5 475.6,215.9 475.7,215.4 476.6,212.2 477.8,210.6 478.7,209.4 479.9,206.7 480.0,205.4 481.4,203.9 482.7,202.7 482.6,199.5 484.2,199.7 484.1,196.8 485.3,195.4 485.9,194.2 487.2,192.4 487.0,191.2 488.2,189.2 489.5,187.6 490.0,186.5 492.0,184.3 492.3,184.5 493.1,181.7 494.4,180.0 495.0,181.0 496.5,178.1 496.7,176.0 497.4,176.7 497.5,173.8 498.1,173.4 499.0,170.7 498.5,169.5 500.7,166.8 500.3,165.0 500.7,164.0 501.5,162.9 502.6,161.9 503.3,161.4 503.2,157.4 504.1,157.1 504.4,154.4 504.7,153.3 505.9,151.0 506.5,149.6 506.6,148.8 508.3,147.1 507.9,146.5 509.3,144.7 509.5,144.7 510.6,142.9 511.8,141.8 513.4,141.4 513.7,140.0 514.7,138.1 515.9,136.6 515.5,135.1 516.3,134.4 517.1,132.7 517.1,130.9 518.1,129.8 518.1,127.2 519.1,126.4 519.2,123.4 519.5,123.7 521.2,121.3 521.3,119.7 523.3,117.9 523.7,116.1 524.5,114.6 525.4,114.2 526.2,112.1 527.3,110.0 527.0,109.5 528.1,106.6 529.4,107.6 529.7,105.0 530.4,103.8 531.6,103.9 531.7,102.5 532.5,99.2 533.0,97.8 534.4,96.3 534.8,95.3 534.7,92.7 535.9,91.5 536.6,90.4 539.1,89.0 540.5,88.6 541.6,87.8 542.9,85.7 543.7,85.0 546.1,82.9 546.8,83.1 547.7,82.9 549.2,79.8 549.6,80.1 551.0,79.0 552.3,77.4 553.4,76.5 556.2,75.3 556.3,73.3 557.5,72.4 559.2,71.3 558.7,70.4 561.2,69.6 562.4,67.5 563.2,67.6 565.6,65.3 566.3,64.5 569.0,63.7 571.2,62.2 571.7,61.2 573.8,60.6 576.1,59.7 578.0,59.3 580.1,57.9 581.7,57.5 582.9,55.5 583.4,55.1 585.1,52.1 587.0,49.3 588.5,51.4 590.1,53.2 593.5,51.4 594.9,50.5 597.6,49.3 597.9,49.9 600.2,49.4 602.3,48.9 603.9,48.1 605.9,48.2 607.6,47.5 609.1,45.7 610.2,46.8 612.5,46.1 615.5,45.3 616.9,45.3 618.9,44.5 619.9,42.1 621.9,44.1 623.4,42.5 625.7,42.3 627.4,42.7 629.3,42.9 631.7,41.5 632.1,43.1 634.3,43.2 634.9,42.6 637.5,41.6 638.5,41.1 640.4,42.0 642.2,41.9 644.5,41.0 645.5,40.9 647.0,40.7 648.5,42.1 650.6,42.4 651.7,39.7 653.4,41.3 655.1,38.6 657.5,40.4 658.9,41.4 661.6,40.7 664.2,41.1 664.5,42.7 667.4,43.5 669.5,42.9 670.0,44.6 672.3,43.7 673.2,45.9 675.9,45.6 677.7,46.5 679.5,47.0 680.6,47.0 682.6,47.0" fill="none" stroke="#9632D0" stroke-width="1.5" stroke-linejoin="round" />
<polyline points="401.2,232.4 402.4,232.3 403.9,232.4 405.5,232.4 407.1,232.5 408.7,232.4 410.3,232.3 412.1,232.3 413.6,232.5 415.3,232.6 416.9,232.4 418.4,232.3 420.1,232.3 421.4,232.4 423.0,232.1 424.6,231.8 425.9,231.8 427.5,231.5 429.2,231.4 430.6,231.3 432.0,231.1 433.7,231.1 435.2,230.9 437.0,230.6 438.5,230.7 440.1,230.5 441.6,229.7 443.3,229.8 445.0,229.6 446.5,229.7 448.1,229.3 449.5,229.3 450.8,229.0 451.9,230.4 453.4,229.0 454.6,227.8 455.7,226.3 456.8,224.9 458.4,224.3 459.4,222.6 460.5,222.4 461.9,221.4 463.5,219.3 465.0,219.5 467.0,217.5 468.7,216.8 470.6,216.0 472.1,213.9 473.0,214.1 474.4,213.2 475.8,213.1 476.8,210.8 478.9,211.7 480.8,210.1 481.8,209.7 483.1,208.5 485.6,208.8 486.4,206.9 487.9,206.8 488.2,204.1 490.7,202.8 491.3,201.1 491.9,198.4 492.6,197.4 493.6,197.0 494.3,194.4 495.0,193.4 495.5,191.9 497.2,191.0 497.5,188.9 498.3,187.7 499.1,186.6 498.9,185.1 500.9,183.1 501.3,182.9 502.1,180.0 503.0,178.7 503.2,177.1 504.6,177.1 504.5,174.7 505.1,172.7 505.7,171.1 506.7,170.7 507.6,168.1 507.6,166.4 507.9,166.2 509.6,163.6 509.5,162.8 511.1,161.6 511.3,160.0 511.7,158.8 512.4,158.4 514.3,156.2 515.8,154.8 516.7,153.5 518.6,153.7 520.4,152.7 520.8,152.2 521.4,150.3 522.5,148.9 523.4,147.4 524.7,146.1 525.3,145.0 525.6,143.0 526.9,141.7 526.1,141.3 527.2,138.6 529.4,135.5 529.7,136.1 530.2,133.4 530.9,130.7 532.0,130.4 532.1,128.1 532.5,126.2 532.5,124.8 533.6,123.1 534.2,122.1 535.0,121.1 535.9,118.4 537.0,117.5 537.7,117.0 539.1,113.4 539.4,113.2 541.2,111.6 543.4,109.8 543.9,108.5 545.7,107.5 547.0,106.1 547.9,103.7 548.5,102.3 548.5,101.1 549.8,99.1 550.3,98.1 550.4,96.4 551.4,94.9 551.9,94.2 552.6,91.6 554.2,90.0 555.0,89.1 556.0,86.3 557.2,85.0 558.7,84.5 560.0,83.0 561.3,82.8 562.8,80.9 563.0,78.3 563.8,79.1 564.3,77.0 564.6,73.9 564.6,74.1 565.8,71.6 567.4,68.7 568.9,68.2 570.8,67.2 571.0,67.5 572.1,64.6 575.7,63.8 578.1,62.6 581.0,61.9 583.1,60.4 584.1,60.3 585.2,60.0 585.8,58.4 588.0,56.2 589.7,54.8 592.6,54.5 595.1,54.5 596.9,53.7 599.0,52.0 600.2,53.4 602.0,51.4 603.6,49.8 605.6,50.8 608.3,50.5 609.2,47.3 611.7,48.0 613.3,47.5 615.1,47.4 616.9,45.9 618.6,44.6 621.6,43.6 624.5,43.1 625.9,42.1 628.6,39.0 629.5,37.6 631.1,38.9 632.9,35.1 635.7,35.2 636.4,35.5 637.5,35.0 640.5,34.6 642.2,33.9 644.1,32.8 646.2,33.0 647.8,32.1 649.5,32.4 651.4,30.3 653.0,28.9 654.6,28.6 656.3,29.8 658.1,27.8 660.3,26.5 662.9,27.3 665.1,27.6 666.4,28.2 668.4,27.0 671.2,28.5 673.1,28.7 675.1,27.7 676.3,28.4 678.7,30.0 680.5,29.5 682.6,27.7" fill="none" stroke="#D6A52A" stroke-width="1.5" stroke-linejoin="round" />
<path d="M400.50,232.90 L409.60,232.90 L411.00,232.85 M420.90,232.52 L421.60,232.50 L431.20,231.30 L431.40,231.26 M441.90,229.38 L450.40,227.70 L451.80,227.18 M461.70,223.28 L467.30,220.40 L470.30,217.90 M478.50,211.57 L481.00,209.80 L484.70,205.16 M491.60,195.30 L492.00,194.70 L497.50,185.00 L497.80,184.48 M502.40,176.45 L503.00,175.40 L507.80,167.02 M512.30,159.10 L514.00,156.10 L518.90,148.79 M523.60,141.71 L525.00,139.60 L528.30,130.97 M532.20,122.88 L532.70,122.10 L537.00,115.20 L538.40,112.77 M542.60,105.58 L543.00,104.90 L548.20,98.00 L548.80,97.00 M553.90,89.21 L555.00,87.70 L560.10,81.03 M566.00,73.86 L567.20,72.40 L574.20,65.40 M582.70,57.05 L590.00,52.00 L590.20,51.88 M599.70,46.40 L600.40,46.00 L608.20,41.80 L609.10,41.45 M618.80,37.68 L619.00,37.60 L628.00,34.60 L628.20,34.56 M638.80,32.26 L639.10,32.20 L646.00,31.30 L649.00,30.77 M659.80,29.59 L666.60,29.10 L669.60,29.10 M680.50,28.87 L682.60,28.80" fill="none" stroke="#000" stroke-width="2.8" stroke-linejoin="round"/>
<line x1="207.5" y1="40.8" x2="233.3" y2="40.8" stroke="#2CA0D8" stroke-width="1.4"/>
<text transform="translate(235.60,44.60) scale(0.935,1)" class="lg">Path 1</text>
<line x1="207.5" y1="52.15" x2="233.3" y2="52.15" stroke="#D4191F" stroke-width="1.4"/>
<text transform="translate(235.60,55.95) scale(0.935,1)" class="lg">Path 2</text>
<line x1="207.5" y1="63.5" x2="233.3" y2="63.5" stroke="#22C838" stroke-width="1.4"/>
<text transform="translate(235.60,67.30) scale(0.935,1)" class="lg">Path 3</text>
<line x1="207.5" y1="74.85" x2="233.3" y2="74.85" stroke="#9632D0" stroke-width="1.4"/>
<text transform="translate(235.60,78.65) scale(0.935,1)" class="lg">Path 4</text>
<line x1="207.5" y1="86.19999999999999" x2="233.3" y2="86.19999999999999" stroke="#D6A52A" stroke-width="1.4"/>
<text transform="translate(235.60,90.00) scale(0.935,1)" class="lg">Path 5</text>
<line x1="207.5" y1="97.55" x2="218.4" y2="97.55" stroke="#000" stroke-width="2.8"/>
<line x1="228.7" y1="97.55" x2="233.3" y2="97.55" stroke="#000" stroke-width="2.8"/>
<text transform="translate(235.60,101.35) scale(0.935,1)" class="lg">Deterministic</text>
<line x1="570.8" y1="150.2" x2="596.5999999999999" y2="150.2" stroke="#2CA0D8" stroke-width="1.4"/>
<text transform="translate(598.90,154.00) scale(0.935,1)" class="lg">Path 1</text>
<line x1="570.8" y1="161.5" x2="596.5999999999999" y2="161.5" stroke="#D4191F" stroke-width="1.4"/>
<text transform="translate(598.90,165.30) scale(0.935,1)" class="lg">Path 2</text>
<line x1="570.8" y1="172.79999999999998" x2="596.5999999999999" y2="172.79999999999998" stroke="#22C838" stroke-width="1.4"/>
<text transform="translate(598.90,176.60) scale(0.935,1)" class="lg">Path 3</text>
<line x1="570.8" y1="184.1" x2="596.5999999999999" y2="184.1" stroke="#9632D0" stroke-width="1.4"/>
<text transform="translate(598.90,187.90) scale(0.935,1)" class="lg">Path 4</text>
<line x1="570.8" y1="195.39999999999998" x2="596.5999999999999" y2="195.39999999999998" stroke="#D6A52A" stroke-width="1.4"/>
<text transform="translate(598.90,199.20) scale(0.935,1)" class="lg">Path 5</text>
<line x1="570.8" y1="206.7" x2="581.6999999999999" y2="206.7" stroke="#000" stroke-width="2.8"/>
<line x1="592.0" y1="206.7" x2="596.5999999999999" y2="206.7" stroke="#000" stroke-width="2.8"/>
<text transform="translate(598.90,210.50) scale(0.935,1)" class="lg">Deterministic</text>
<text x="96.5" y="285.6" class="cp" textLength="17.1" lengthAdjust="spacingAndGlyphs" >(a)</text>
<text x="119.5" y="285.6" class="cp" textLength="49.9" lengthAdjust="spacingAndGlyphs" >Infected</text>
<text x="175.5" y="285.6" class="cp" textLength="41.6" lengthAdjust="spacingAndGlyphs" >human</text>
<text x="223.1" y="285.6" class="cp" textLength="4.0" lengthAdjust="spacingAndGlyphs" >(</text>
<text x="228.6" y="285.6" class="cp" textLength="5.9" lengthAdjust="spacingAndGlyphs" font-style="italic">I</text>
<text x="235.4" y="288.0" class="cp" font-style="italic" font-size="10.6">h</text>
<text x="243.0" y="285.6" class="cp" textLength="4.0" lengthAdjust="spacingAndGlyphs" >)</text>
<text x="450.3" y="285.6" class="cp" textLength="18.4" lengthAdjust="spacingAndGlyphs" >(b)</text>
<text x="474.2" y="285.6" class="cp" textLength="62.7" lengthAdjust="spacingAndGlyphs" >Recovered</text>
<text x="543.2" y="285.6" class="cp" textLength="43.0" lengthAdjust="spacingAndGlyphs" >human</text>
<text x="590.8" y="285.6" class="cp" textLength="4.0" lengthAdjust="spacingAndGlyphs" >(</text>
<text x="597.6" y="285.6" class="cp" textLength="9.4" lengthAdjust="spacingAndGlyphs" font-style="italic">R</text>
<text x="607.4" y="288.0" class="cp" font-style="italic" font-size="10.6">h</text>
<text x="615.2" y="285.6" class="cp" textLength="4.0" lengthAdjust="spacingAndGlyphs" >)</text>
</svg>
</body></html>
